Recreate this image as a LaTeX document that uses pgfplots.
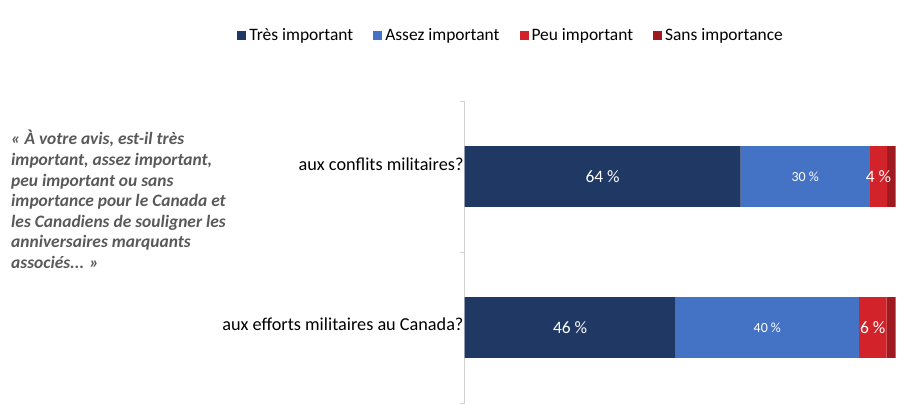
\documentclass[border=0pt]{standalone}
\usepackage{pgfplots}
\pgfplotsset{compat=1.18}
\usepackage{pgfplotstable}
\usepackage{fontspec}
\setmainfont{Carlito}
\definecolor{navy}{RGB}{31,56,100}
\definecolor{bleu}{RGB}{68,114,196}
\definecolor{rouge}{RGB}{210,34,42}
\definecolor{rougef}{RGB}{158,26,32}
\definecolor{gris}{RGB}{89,89,89}
\definecolor{axisgris}{RGB}{210,210,210}
\pgfplotstableread{
y tres assez peu sans
1 64 30 4 2
0 46 40 6 2
}\data
\newcommand\tot{(\thisrow{tres}+\thisrow{assez}+\thisrow{peu}+\thisrow{sans})}
\begin{document}
\begin{tikzpicture}
\useasboundingbox (0,0) rectangle (906bp,-418bp);
\node[anchor=north west, align=left, font=\fontsize{17.5}{20.7}\selectfont\bfseries\itshape, text=gris, inner sep=0pt] at (11bp,-130bp)
{« À votre avis, est-il très\\important, assez important,\\peu important ou sans\\importance pour le Canada et\\les Canadiens de souligner les\\anniversaires marquants\\associés... »};
\begin{axis}[
  at={(464.7bp,-403bp)}, anchor=south west,
  scale only axis, width=431bp, height=302bp,
  xbar stacked, bar width=60.6bp,
  xmin=0, xmax=100, ymin=-0.5, ymax=1.5,
  axis y line*=left, axis x line=none,
  y axis line style={axisgris, line width=0.8pt},
  ytick={-0.5,0.5,1.5}, yticklabels={},
  major tick length=5bp,
  tick style={axisgris, line width=0.8pt},
  y tick style={axisgris},
  tick align=outside,
  extra y ticks={0.02,1.08},
  extra y tick labels={aux efforts militaires au Canada?,aux conflits militaires?},
  extra y tick style={major tick length=0pt, tick style={draw=none}},
  yticklabel style={font=\fontsize{18.3}{22}\selectfont, anchor=east, inner sep=0pt, xshift=-1bp},
  /pgf/number format/assume math mode=true,
  legend style={draw=none, fill=none, at={(0.109,1.2185)}, anchor=center,
    font=\fontsize{17.5}{21}\selectfont, legend columns=4,
    nodes={inner sep=3bp},
    /tikz/every even column/.append style={column sep=17bp}},
  legend image code/.code={\fill[#1] (0bp,-4.5bp) rectangle (9bp,4.5bp);},
  nodes near coords={\pgfmathprintnumber{\pgfplotspointmeta}~\%},
]
\addplot[fill=navy, draw=none, point meta=\thisrow{tres},
  every node near coord/.append style={anchor=center, text=white, font=\fontsize{17.5}{21}\selectfont}]
  table[x expr=\thisrow{tres}*100/\tot, y=y] {\data};
\addlegendentry{Très important}
\addplot[fill=bleu, draw=none, point meta=\thisrow{assez},
  every node near coord/.append style={anchor=center, text=white, font=\fontsize{14}{17}\selectfont}]
  table[x expr=\thisrow{assez}*100/\tot, y=y] {\data};
\addlegendentry{Assez important}
\addplot[fill=rouge, draw=none, point meta=\thisrow{peu},
  every node near coord/.append style={anchor=center, text=white, font=\fontsize{17.5}{21}\selectfont}]
  table[x expr=\thisrow{peu}*100/\tot, y=y] {\data};
\addlegendentry{Peu important}
\addplot[fill=rougef, draw=none, nodes near coords={}]
  table[x expr=\thisrow{sans}*100/\tot, y=y] {\data};
\addlegendentry{Sans importance}
\end{axis}
\end{tikzpicture}
\end{document}
